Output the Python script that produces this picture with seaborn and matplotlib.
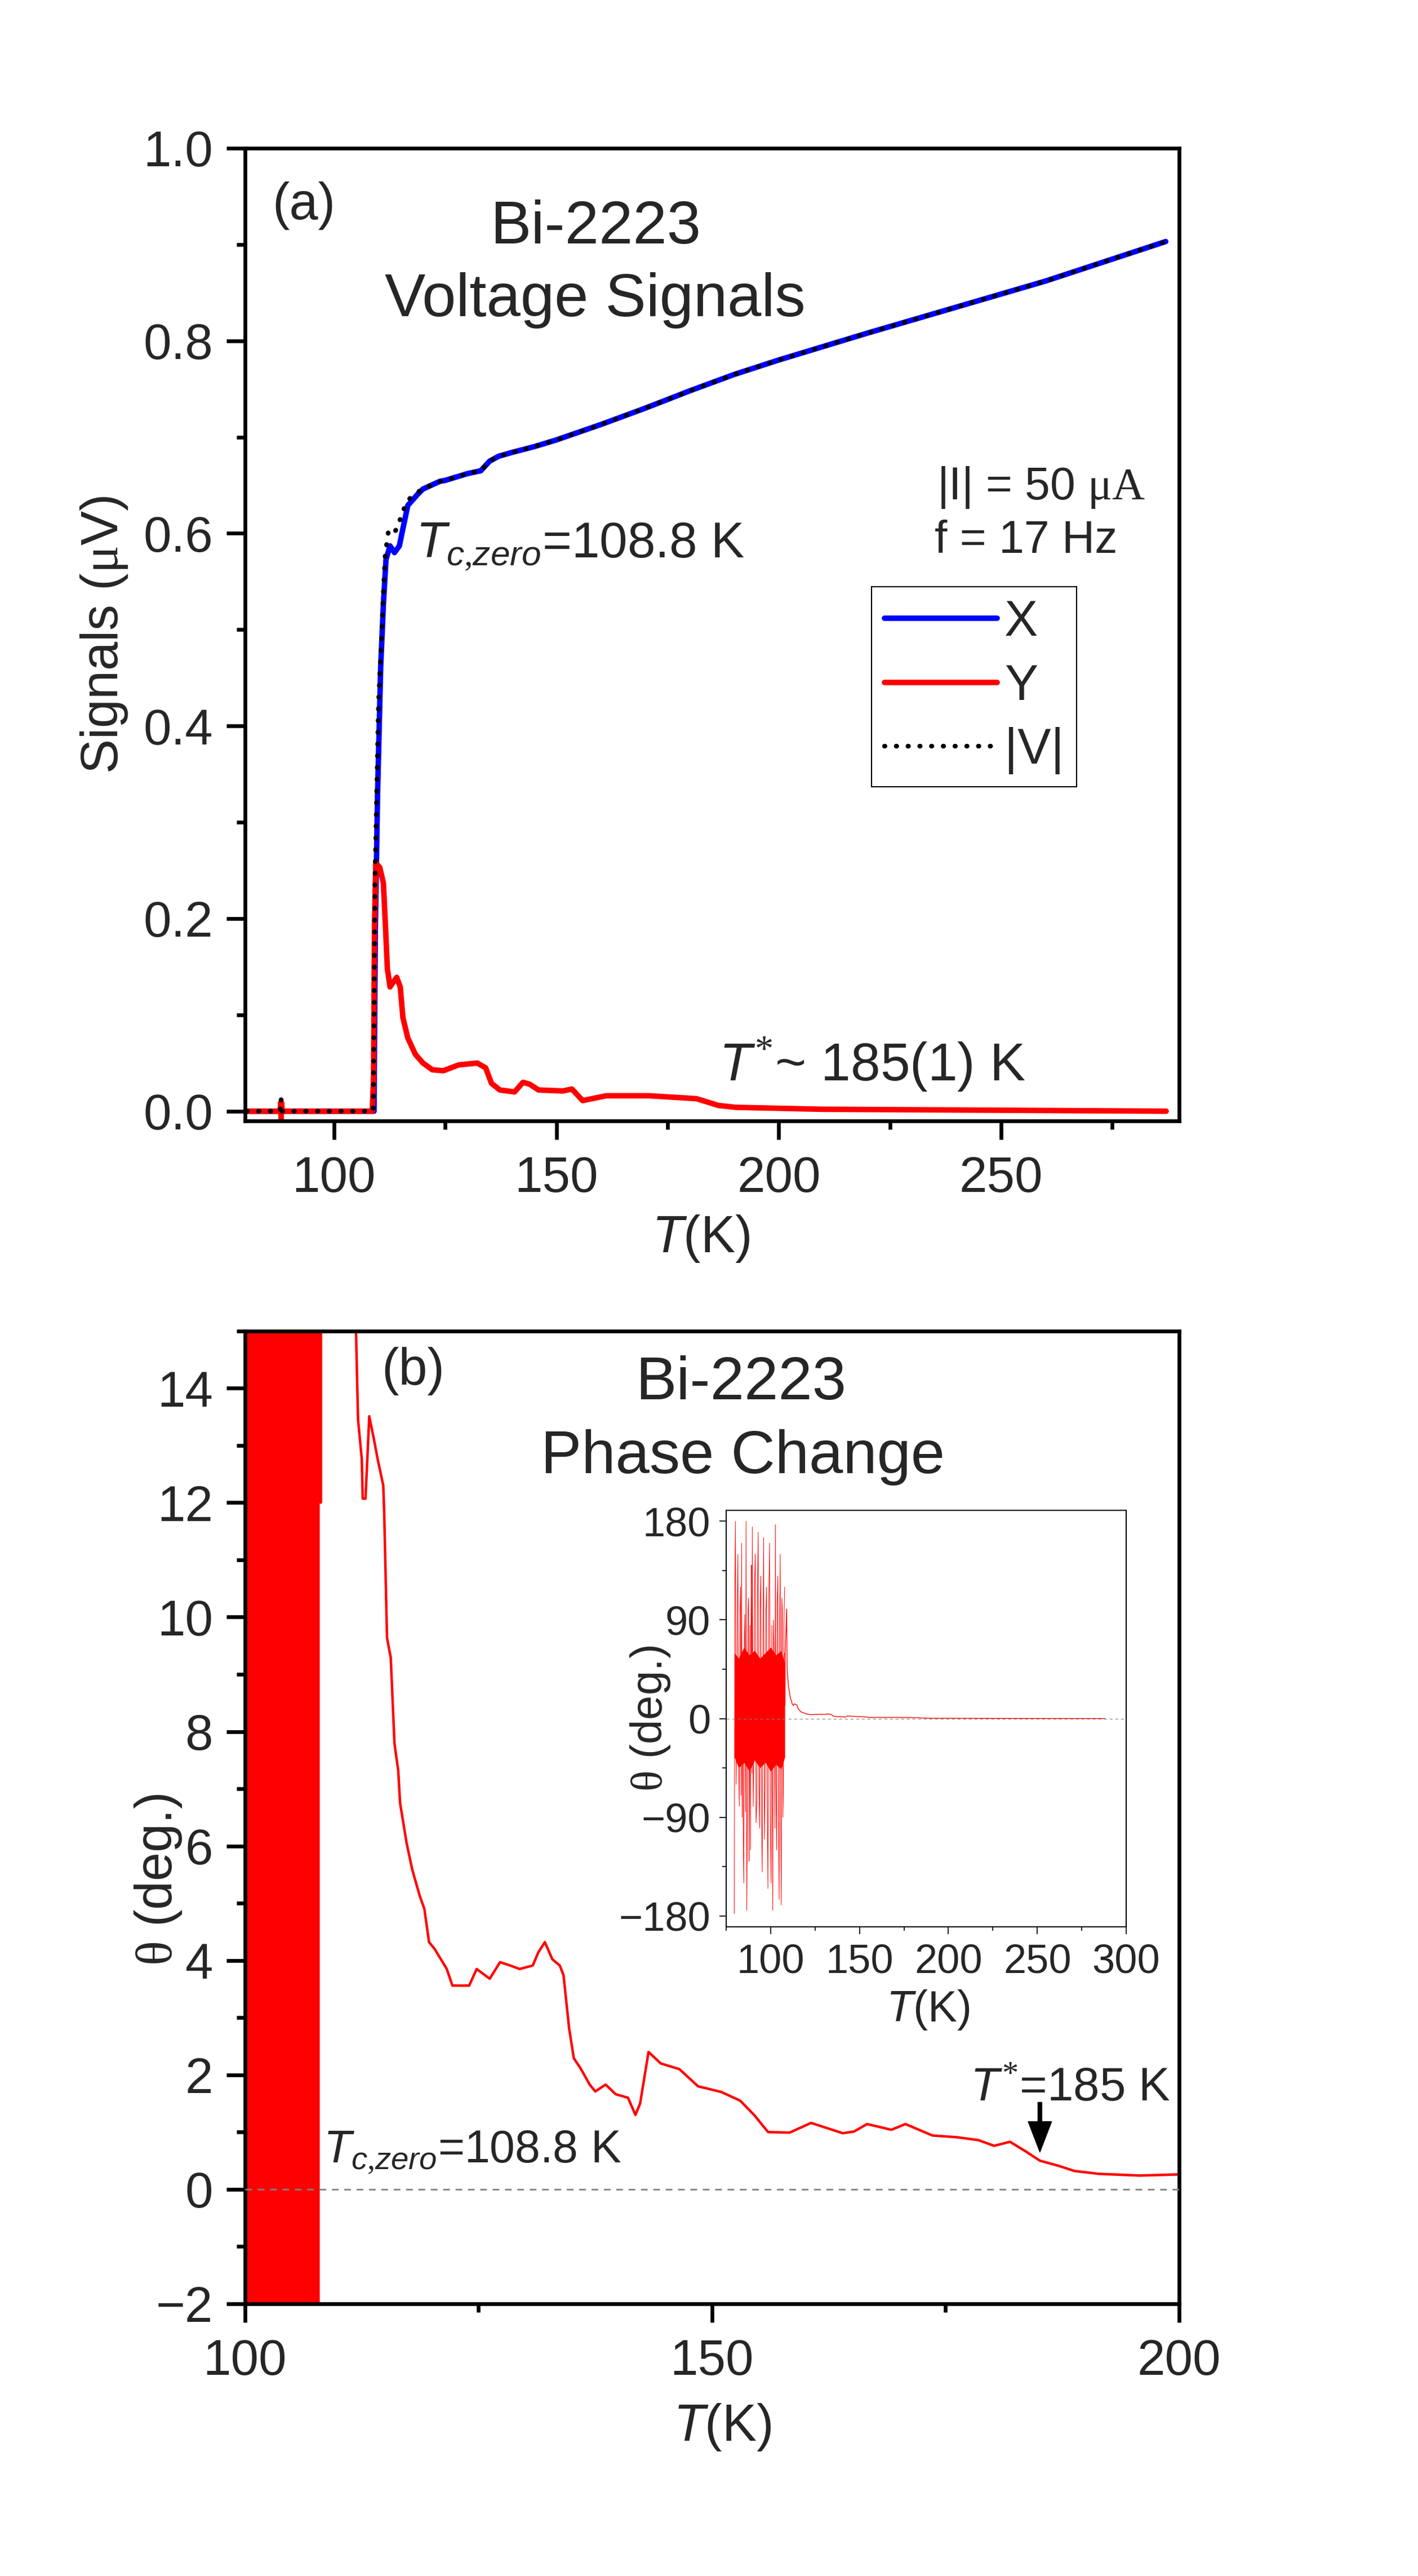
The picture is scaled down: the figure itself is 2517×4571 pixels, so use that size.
import matplotlib
matplotlib.use("Agg")
import matplotlib.pyplot as plt
from matplotlib.ticker import MultipleLocator
import seaborn as sns

# ---- (a) lock-in signals (uV) vs T (K) ----
# X and |V| share the normal-state part above 125 K
common_T = [125, 130, 133, 135, 137, 140, 145, 150, 155, 160, 170, 180, 190, 200, 220, 240, 260, 287]
common_V = [0.655, 0.662, 0.665, 0.675, 0.680, 0.684, 0.690, 0.697, 0.705, 0.713, 0.730, 0.748,
            0.765, 0.780, 0.808, 0.835, 0.862, 0.903]

x_lowT = [80.4, 87.9, 88.1, 88.3, 95.0, 105.0, 109.0, 109.3, 109.8, 110.5, 111.1, 111.7, 112.6,
          113.6, 114.7, 115.5, 116.6, 118.7, 120.0, 123.8]
x_lowV = [0, 0, 0.006, 0, 0, 0, 0, 0.190, 0.330, 0.461, 0.526, 0.573, 0.587, 0.580, 0.587,
          0.605, 0.629, 0.640, 0.646, 0.654]

v_lowT = [80.4, 87.9, 88.1, 88.3, 95.0, 105.0, 108.8, 109.0, 109.2, 109.6, 110.0, 110.7, 111.1,
          111.5, 112.2, 113.2, 114.5, 115.3, 117.0, 119.5, 123.8]
v_lowV = [0, 0, 0.013, 0, 0, 0, 0, 0.097, 0.237, 0.330, 0.423, 0.493, 0.540, 0.577, 0.601,
          0.598, 0.608, 0.622, 0.636, 0.645, 0.654]

y_T = [80.4, 87.9, 88.0, 88.1, 88.2, 88.4, 95.0, 105.0, 108.6, 108.9, 109.1, 109.4, 110.3, 111.1,
       111.6, 112.0, 112.6, 114.1, 114.9, 115.5, 116.6, 118.3, 120.0, 122.1, 124.6, 128.0, 132.2,
       134.1, 135.4, 137.3, 140.6, 142.5, 144.0, 146.0, 151.5, 153.5, 155.9, 161.2, 170.9, 181.5,
       186.4, 190.3, 209.6, 250.0, 287.1]
y_V = [0, 0, 0.009, -0.008, 0.009, 0, 0, 0, 0, 0.036, 0.190, 0.258, 0.253, 0.237, 0.190, 0.148,
       0.129, 0.139, 0.129, 0.097, 0.076, 0.059, 0.050, 0.043, 0.042, 0.048, 0.050, 0.045, 0.029,
       0.022, 0.020, 0.030, 0.028, 0.022, 0.021, 0.023, 0.011, 0.016, 0.016, 0.013, 0.006, 0.004,
       0.002, 0.001, 0.0]

x_T = x_lowT + common_T
x_V = x_lowV + common_V
v_T = v_lowT + common_T
v_V = v_lowV + common_V

# ---- (b) phase theta (deg) vs T (K) ----
# below Tc the phase is pure noise: dense core envelope + the spikes
env_T = [79.6, 82, 85, 88, 91, 94, 97, 100, 103, 106, 108.0]
env_lo = [-35, -45, -40, -48, -38, -45, -40, -48, -42, -46, -35]
env_hi = [60, 55, 65, 58, 62, 55, 60, 65, 58, 62, 50]

spike_T = [79.6, 79.9, 80.2, 80.6, 80.9, 81.3, 81.6, 82.0, 82.4, 82.7,
           83.1, 83.4, 83.7, 84.0, 84.3, 84.6, 84.9, 85.2, 85.5, 85.9,
           86.2, 86.6, 87.0, 87.3, 87.6, 87.9, 88.1, 88.4, 88.7, 89.0,
           89.2, 89.5, 89.7, 90.2, 90.6, 91.0, 91.4, 91.8, 92.3, 92.6,
           93.0, 93.4, 93.8, 94.1, 94.5, 94.9, 95.3, 95.7, 96.1, 96.5,
           96.9, 97.3, 97.7, 98.1, 98.5, 99.0, 99.4, 99.8, 100.3, 100.7,
           101.2, 101.6, 102.0, 102.4, 102.7, 103.0, 103.4, 103.7, 104.1, 104.4,
           104.8, 105.1, 105.4, 105.7, 106.0, 106.3, 106.6, 106.9, 107.2, 107.5,
           107.9]
spike_theta = [-178, 120, 180, -60, -10, 110, 150, -40, -80, 95,
               120, -70, 160, -90, 60, -110, -150, 70, 95, -85,
               180, -175, -60, 100, 110, -130, -60, 85, -120, 90,
               140, -50, 175, -80, -30, 125, 150, -95, -75, 115,
               170, -60, -100, 100, 130, -85, -140, 70, 165, -110,
               -60, 95, 120, -70, -155, 110, 160, -90, -150, 85,
               -175, 90, 60, -100, 177, -60, -120, 105, 130, -80,
               -165, 90, 150, -95, -170, 110, 100, -90, -60, 85,
               120]

th_T = [108.0, 108.1, 108.2, 109.0, 109.3, 110.0, 111.0, 111.88, 112.1, 112.5, 112.6, 112.9, 113.3,
        113.8, 114.2, 114.8, 114.9, 115.2, 115.6, 116.0, 116.4, 116.6, 117.3, 117.9, 118.7, 119.2,
        119.7, 120.3, 121.6, 122.2, 124.0, 124.8, 125.7, 126.2, 127.3, 128.4, 129.4, 130.8, 131.4,
        132.1, 132.9, 133.7, 134.1, 134.7, 135.2, 135.9, 136.9, 137.5, 138.6, 139.7, 141.0, 141.8,
        142.3, 143.2, 144.5, 146.5, 148.5, 151.0, 153.0, 154.5, 156.0, 158.3, 160.6, 164.0, 165.2,
        166.6, 169.2, 170.7, 173.6, 176.2, 178.5, 180.2, 181.9, 183.7, 185.1, 187.1, 188.8, 191.4,
        195.8, 200.0, 220.0, 250.0, 288.0]
th_deg = [60, 12.0, 60, 100, 45, 30, 20, 15.0, 13.45, 12.76, 12.07, 12.07, 13.51, 13.11, 12.76,
          12.30, 11.83, 9.64, 9.29, 7.79, 7.32, 6.75, 6.05, 5.59, 5.13, 4.90, 4.32, 4.20, 3.85,
          3.56, 3.56, 3.85, 3.74, 3.68, 3.97, 3.91, 3.85, 3.91, 4.14, 4.32, 4.02, 3.91, 3.74, 2.81,
          2.29, 2.12, 1.83, 1.71, 1.83, 1.66, 1.60, 1.30, 1.50, 2.40, 2.20, 2.10, 1.80, 1.70, 1.55,
          1.30, 1.00, 0.99, 1.16, 0.98, 1.01, 1.14, 1.04, 1.14, 0.94, 0.91, 0.86, 0.76, 0.83, 0.65,
          0.50, 0.41, 0.32, 0.27, 0.24, 0.26, 0.15, 0.08, 0.03]

sns.set_style("ticks")
plt.rcParams["font.family"] = ["Liberation Sans", "DejaVu Sans"]
plt.rcParams["mathtext.fontset"] = "custom"
plt.rcParams["mathtext.rm"] = "Liberation Serif"
plt.rcParams["mathtext.it"] = "Liberation Sans:italic"
plt.rcParams["mathtext.bf"] = "Liberation Sans:bold"

fig = plt.figure(figsize=(25.17, 45.71), dpi=100)
ax1 = fig.add_axes([0.1728, 0.5649, 0.6587, 0.3776])
ax2 = fig.add_axes([0.1728, 0.1057, 0.6587, 0.3776])
axin = fig.add_axes([0.5121, 0.2520, 0.2821, 0.1617])


def style_main(ax):
    for s in ax.spines.values():
        s.set_linewidth(4.8)
        s.set_color("black")
    ax.tick_params(which="major", direction="out", length=24, width=4.8, labelsize=64,
                   top=False, right=False, color="black")
    ax.tick_params(which="minor", direction="out", length=11, width=4.8,
                   top=False, right=False, color="black")
    ax.tick_params(axis="x", which="major", pad=20)
    ax.tick_params(axis="y", which="major", pad=17)


# ---- panel (a) ----
sns.lineplot(x=x_T, y=x_V, ax=ax1, color="#0000FF", lw=7, label="X",
             estimator=None, sort=False)
sns.lineplot(x=y_T, y=y_V, ax=ax1, color="#FF0000", lw=7, label="Y",
             estimator=None, sort=False)
sns.lineplot(x=v_T, y=v_V, ax=ax1, color="black", lw=6, label="|V|",
             linestyle=(0, (0.1, 2.4)), dash_capstyle="round",
             estimator=None, sort=False)

ax1.set_xlim(80, 290)
ax1.set_ylim(-0.01, 1.0)
ax1.set_xticks([100, 150, 200, 250])
ax1.xaxis.set_minor_locator(MultipleLocator(25))
ax1.set_yticks([0.0, 0.2, 0.4, 0.6, 0.8, 1.0])
ax1.yaxis.set_minor_locator(MultipleLocator(0.1))
style_main(ax1)

ax1.set_xlabel(r"$T$(K)", fontsize=66)
ax1.xaxis.set_label_coords(0.488, -0.121)
ax1.xaxis.label.set_va("center")
ax1.set_ylabel(r"Signals ($\mathrm{\mu}$V)", fontsize=66)
ax1.yaxis.set_label_coords(-0.151, 0.5)
ax1.yaxis.label.set_va("center")

leg = ax1.legend(loc="upper left", bbox_to_anchor=(0.671, 0.549), borderaxespad=0,
                 frameon=True, fancybox=False, edgecolor="black", framealpha=1,
                 fontsize=64, handlelength=2.25, handletextpad=0.15, borderpad=0.25,
                 labelspacing=0.33)
leg.get_frame().set_linewidth(1.5)

ax1.text(0.063, 0.941, "(a)", transform=ax1.transAxes, fontsize=66, ha="center", va="center")
ax1.text(0.375, 0.902, "Bi-2223", transform=ax1.transAxes, fontsize=78, ha="center",
         va="baseline")
ax1.text(0.375, 0.827, "Voltage Signals", transform=ax1.transAxes, fontsize=78, ha="center",
         va="baseline")
ax1.text(0.741, 0.651, r"|I| = 50 $\mathrm{\mu A}$", transform=ax1.transAxes, fontsize=58,
         ha="left", va="center")
ax1.text(0.738, 0.596, "f = 17 Hz", transform=ax1.transAxes, fontsize=58, ha="left",
         va="center")
ax1.text(0.183, 0.579, r"$T_{c{,}zero}$=108.8 K", transform=ax1.transAxes, fontsize=64,
         ha="left", va="baseline")
ax1.text(0.507, 0.041, r"$T^{*}$~ 185(1) K", transform=ax1.transAxes, fontsize=68,
         ha="left", va="baseline")

# ---- panel (b) ----
ax2.axhline(0, color="gray", lw=2, dashes=(4.3, 3.6), zorder=3)
ax2.fill_between(env_T, env_lo, env_hi, color="#FF0000", lw=0)
sns.lineplot(x=spike_T, y=spike_theta, ax=ax2, color="#FF0000", lw=1.2,
             estimator=None, sort=False)
sns.lineplot(x=th_T, y=th_deg, ax=ax2, color="#FF0000", lw=3.2,
             estimator=None, sort=False)

ax2.set_xlim(100, 200)
ax2.set_ylim(-2, 15)
ax2.set_xticks([100, 150, 200])
ax2.xaxis.set_minor_locator(MultipleLocator(25))
ax2.set_yticks(list(range(-2, 15, 2)))
ax2.yaxis.set_minor_locator(MultipleLocator(1))
style_main(ax2)

ax2.set_xlabel(r"$T$(K)", fontsize=66)
ax2.xaxis.set_label_coords(0.511, -0.127)
ax2.xaxis.label.set_va("center")
ax2.set_ylabel(r"$\mathrm{\theta}$ (deg.)", fontsize=66)
ax2.yaxis.set_label_coords(-0.093, 0.436)
ax2.yaxis.label.set_va("center")

ax2.text(0.180, 0.959, "(b)", transform=ax2.transAxes, fontsize=66, ha="center", va="center")
ax2.text(0.531, 0.930, "Bi-2223", transform=ax2.transAxes, fontsize=78, ha="center",
         va="baseline")
ax2.text(0.533, 0.854, "Phase Change", transform=ax2.transAxes, fontsize=78, ha="center",
         va="baseline")
ax2.text(0.084, 0.145, r"$T_{c{,}zero}$=108.8 K", transform=ax2.transAxes, fontsize=58,
         ha="left", va="baseline")
ax2.text(177.6, 1.55, r"$T^{*}$=185 K", fontsize=60, ha="left", va="baseline")
ax2.annotate("", xy=(185.1, 0.65), xytext=(185.1, 1.52),
             arrowprops=dict(facecolor="black", edgecolor="black", width=5,
                             headwidth=30, headlength=39, shrink=0))

# ---- inset: full phase range ----
axin.axhline(0, color="gray", lw=0.8, dashes=(5, 4), zorder=3)
axin.fill_between(env_T, env_lo, env_hi, color="#FF0000", lw=0)
sns.lineplot(x=spike_T, y=spike_theta, ax=axin, color="#FF0000", lw=0.7,
             estimator=None, sort=False)
sns.lineplot(x=th_T, y=th_deg, ax=axin, color="#FF0000", lw=1.0,
             estimator=None, sort=False)
axin.set_xlim(75, 300)
axin.set_ylim(-190, 190)
axin.set_xticks([100, 150, 200, 250, 300])
axin.xaxis.set_minor_locator(MultipleLocator(25))
axin.set_yticks([-180, -90, 0, 90, 180])
axin.yaxis.set_minor_locator(MultipleLocator(45))
for s in axin.spines.values():
    s.set_linewidth(1.5)
    s.set_color("black")
axin.tick_params(which="major", direction="out", length=9, width=1.5, labelsize=52,
                 top=False, right=False)
axin.tick_params(which="minor", direction="out", length=5, width=1.5, top=False, right=False)
axin.tick_params(axis="x", which="major", pad=12)
axin.tick_params(axis="y", which="major", pad=11)
axin.set_xlabel(r"$T$(K)", fontsize=56)
axin.xaxis.set_label_coords(0.504, -0.20)
axin.xaxis.label.set_va("center")
axin.set_ylabel(r"$\mathrm{\theta}$ (deg.)", fontsize=56)
axin.yaxis.set_label_coords(-0.19, 0.5)
axin.yaxis.label.set_va("center")

fig.savefig("out.png", dpi=100, facecolor="white")
